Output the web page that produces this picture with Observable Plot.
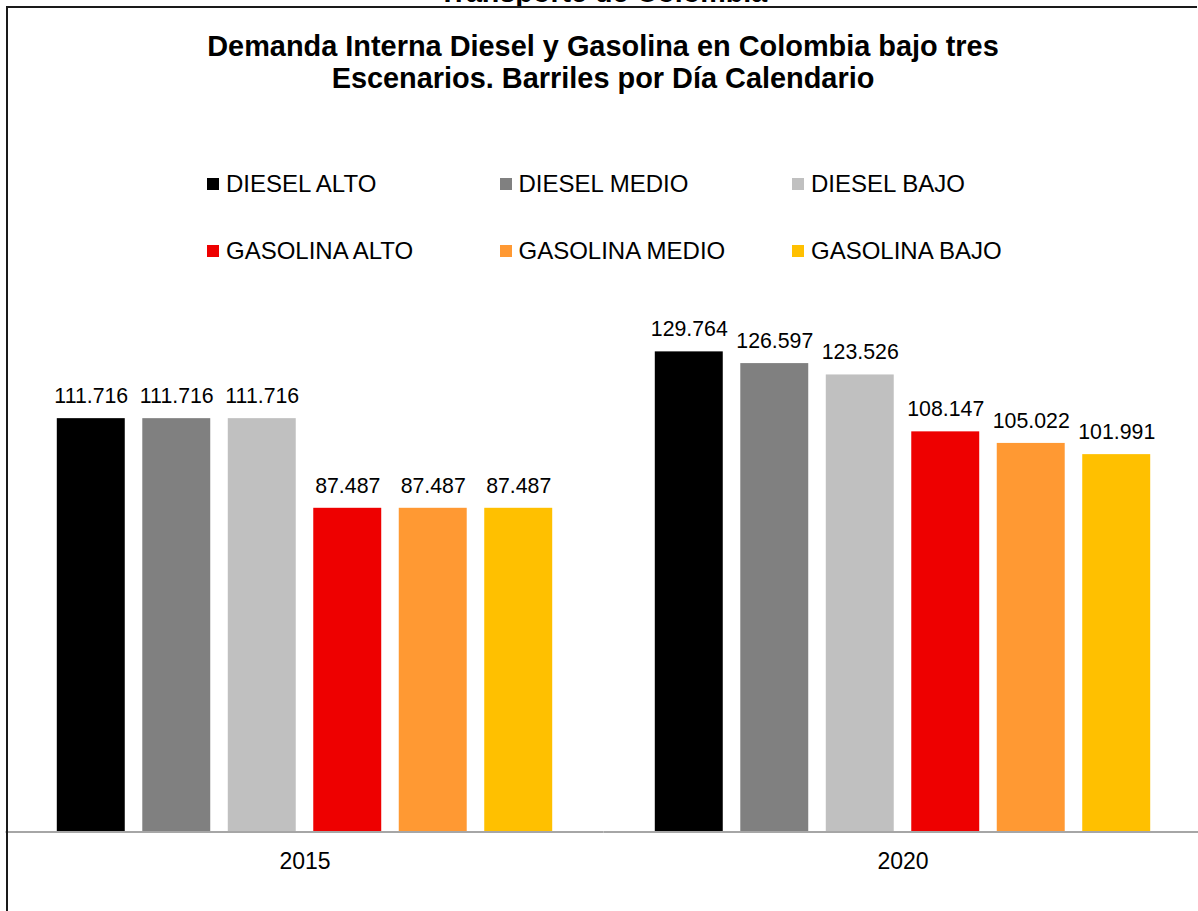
<!DOCTYPE html>
<html>
<head>
<meta charset="utf-8">
<script src="https://cdn.jsdelivr.net/npm/d3@7"></script>
<script src="https://cdn.jsdelivr.net/npm/@observablehq/plot@0.6"></script>
<style>
  html, body { margin: 0; padding: 0; background: #fff; overflow: hidden; }
  body { font-family: "Liberation Sans", Arial, sans-serif; color: #000; }
  #wrap { position: relative; width: 1198px; height: 911px; overflow: hidden; }
  #frame { position: absolute; left: 6px; top: 6px; width: 1191px; height: 905px;
           border-left: 2px solid #1a1a1a; border-top: 2px solid #1a1a1a; box-sizing: border-box; pointer-events: none; }
  #header { position: relative; width: 1198px; height: 300px; }
  #cut { position: absolute; left: 0; width: 1206px; top: -24px; text-align: center;
         font-weight: bold; font-size: 28.7px; line-height: 33px; white-space: nowrap; }
  #title { position: absolute; left: 0; width: 1206px; top: 29.6px; text-align: center;
           font-weight: bold; font-size: 28.9px; line-height: 32.5px; }
  .item { position: absolute; display: flex; align-items: center; font-size: 24px; line-height: 24px; white-space: nowrap; }
  .sw { width: 12px; height: 12px; margin-right: 7px; flex: none; }
  #chart svg { display: block; }
</style>
</head>
<body>
<div id="wrap">
  <div id="header">
    <div id="cut">Transporte de Colombia</div>
    <div id="title">Demanda Interna Diesel y Gasolina en Colombia bajo tres<br>Escenarios. Barriles por Día Calendario</div>
    <div id="legend"></div>
  </div>
  <div id="chart"></div>
  <div id="frame"></div>
</div>
<script>
const years = ["2015", "2020"];
const series = ["DIESEL ALTO", "DIESEL MEDIO", "DIESEL BAJO", "GASOLINA ALTO", "GASOLINA MEDIO", "GASOLINA BAJO"];
const colors = ["#000000", "#808080", "#c0c0c0", "#ee0000", "#ff9933", "#ffc000"];
const values2015 = [111716, 111716, 111716, 87487, 87487, 87487];
const values2020 = [129764, 126597, 123526, 108147, 105022, 101991];

const valuesByYear = [values2015, values2020];
const rows = [];
years.forEach((yr, i) => series.forEach((s, j) => rows.push({year: yr, series: s, value: valuesByYear[i][j]})));

const fmt = d3.formatLocale({decimal: ",", thousands: ".", grouping: [3], currency: ["$", ""]}).format(",d");

// Legend (HTML)
const legend = document.getElementById("legend");
series.forEach((s, i) => {
  const col = i % 3, row = Math.floor(i / 3);
  const el = document.createElement("div");
  el.className = "item";
  el.style.left = (207 + col * 292.5) + "px";
  el.style.top = (171.5 + row * 67) + "px";
  const sw = document.createElement("span");
  sw.className = "sw";
  sw.style.background = colors[i];
  const tx = document.createElement("span");
  tx.textContent = s;
  el.appendChild(sw); el.appendChild(tx);
  legend.appendChild(el);
});

const chart = Plot.plot({
  width: 1198,
  height: 611,
  marginTop: 0,
  marginLeft: 5.5,
  marginRight: 0,
  marginBottom: 79.5,
  style: {fontFamily: "'Liberation Sans', Arial, sans-serif", fontSize: "21px", color: "#000", background: "transparent"},
  fx: {domain: years, range: [5.5, 1201.5], padding: 0, round: false, label: null},
  x: {domain: series, paddingInner: 0.205, paddingOuter: 0.6, round: false, axis: null},
  y: {domain: [0, 140000], range: [531.5, 13.5], axis: null},
  color: {domain: series, range: colors},
  marks: [
    Plot.barY(rows, {fx: "year", x: "series", y: "value", fill: "series"}),
    Plot.ruleY([0], {stroke: "#a6a6a6", strokeWidth: 2}),
    Plot.text(rows, {fx: "year", x: "series", y: "value", text: d => fmt(d.value),
      lineAnchor: "bottom", dy: -15.5, fontSize: 21.3, fill: "#000"}),
    Plot.axisFx({anchor: "bottom", tickSize: 0, tickPadding: 20.5, fontSize: 23, label: null, fill: "#000", tickFormat: d => d})
  ]
});
document.getElementById("chart").appendChild(chart);
</script>
</body>
</html>
